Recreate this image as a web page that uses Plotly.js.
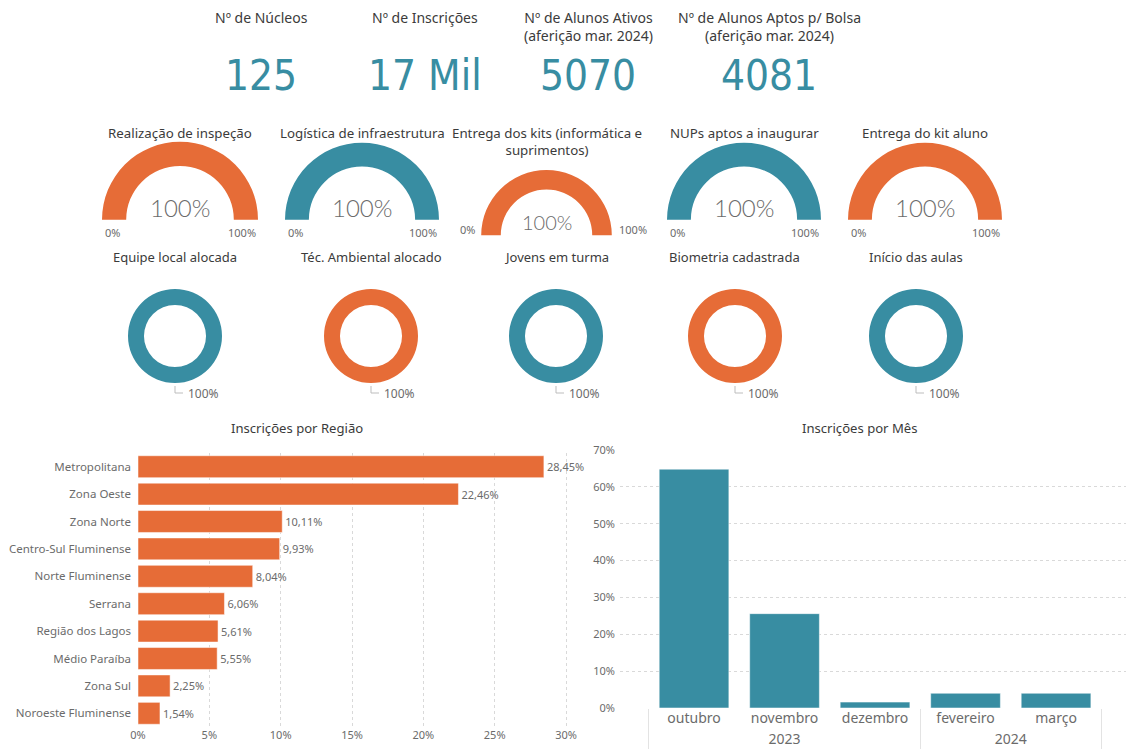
<!DOCTYPE html>
<html>
<head>
<meta charset="utf-8">
<script src="https://cdn.plot.ly/plotly-3.0.1.min.js"></script>
<style>html,body{margin:0;padding:0;background:#fff;}#chart{width:1126px;height:756px;}</style>
</head>
<body>
<div id="chart"></div>
<script>
// ---------- DATA ----------
const kpiTitles = ['Nº de Núcleos', 'Nº de Inscrições', 'Nº de Alunos Ativos<br>(aferição mar. 2024)', 'Nº de Alunos Aptos p/ Bolsa<br>(aferição mar. 2024)'];
const kpiValues = ['125', '17 Mil', '5070', '4081'];

const gaugeTitles = ['Realização de inspeção', 'Logística de infraestrutura', 'Entrega dos kits (informática e<br>suprimentos)', 'NUPs aptos a inaugurar', 'Entrega do kit aluno'];
const gaugeValues = [100, 100, 100, 100, 100];
const gaugeMin = '0%';
const gaugeMax = '100%';

const donutTitles = ['Equipe local alocada', 'Téc. Ambiental alocado', 'Jovens em turma', 'Biometria cadastrada', 'Início das aulas'];
const donutValues = [100, 100, 100, 100, 100];

const regions = ['Metropolitana', 'Zona Oeste', 'Zona Norte', 'Centro-Sul Fluminense', 'Norte Fluminense', 'Serrana', 'Região dos Lagos', 'Médio Paraíba', 'Zona Sul', 'Noroeste Fluminense'];
const regionValues = [28.45, 22.46, 10.11, 9.93, 8.04, 6.06, 5.61, 5.55, 2.25, 1.54];

const monthYears = ['2023', '2023', '2023', '2024', '2024'];
const months = ['outubro', 'novembro', 'dezembro', 'fevereiro', 'março'];
const monthValues = [64.8, 25.6, 1.6, 4.0, 4.0];

// ---------- STYLE / LAYOUT ----------
const W = 1126, H = 756;
const px = x => x / W;
const py = y => 1 - y / H;
const TEAL = '#388DA2';
const ORANGE = '#E66C37';
const TXT = '#3b3b3b';
const GRAY = '#6b6b6b';
const FONT = 'Segoe UI, Noto Sans, Open Sans, sans-serif';
const NUMFONT = 'DejaVu Sans Condensed, sans-serif';
const LIGHTFONT = 'Lato, Noto Sans, sans-serif';

const annotations = [];
const shapes = [];
function ann(text, x, y, opt) {
  opt = opt || {};
  annotations.push({
    text: text, x: px(x), y: py(y), xref: 'paper', yref: 'paper', showarrow: false,
    xanchor: opt.xanchor || 'center', yanchor: opt.yanchor || 'middle',
    align: opt.align || 'center',
    font: {family: opt.family || FONT, size: opt.size || 14, color: opt.color || TXT, weight: opt.weight || 400}
  });
}

// KPI cards
const kpiX = [261, 425, 588, 769];
kpiTitles.forEach((t, i) => ann(t, kpiX[i], 6, {yanchor: 'top', size: 14}));
kpiValues.forEach((v, i) => ann(v, kpiX[i], 76, {size: 42, color: TEAL, family: NUMFONT}));

const traces = [];

// Gauges (semi donuts)
const gaugeCx = [180, 362, 546.5, 744, 925];
const gaugeCy = [219.7, 219.7, 235.3, 219.7, 219.7];
const gaugeR = [78, 77, 65.3, 77, 77];
const gaugeColors = [ORANGE, TEAL, ORANGE, TEAL, ORANGE];
gaugeValues.forEach((v, i) => {
  const cx = gaugeCx[i], cy = gaugeCy[i], r = gaugeR[i];
  traces.push({
    type: 'pie', values: [v, 100 - v, 100], sort: false, direction: 'clockwise', rotation: 270,
    hole: i === 2 ? 0.70 : 0.69, textinfo: 'none', hoverinfo: 'skip', showlegend: false,
    marker: {colors: [gaugeColors[i], '#e6e6e6', 'rgba(0,0,0,0)'], line: {width: 0}},
    domain: {x: [px(cx - r), px(cx + r)], y: [py(cy + r), py(cy - r)]}
  });
  const big = i !== 2;
  ann(gaugeTitles[i], cx, 122, {yanchor: 'top', size: 13.3});
  ann(v + '%', cx, big ? 207 : 222, {size: big ? 24 : 20, color: GRAY, family: LIGHTFONT, weight: 300});
  if (big) {
    ann(gaugeMin, cx - r + 1, 233, {xanchor: 'left', size: 11, color: GRAY});
    ann(gaugeMax, cx + r, 233, {xanchor: 'right', size: 11, color: GRAY});
  } else {
    ann(gaugeMin, cx - r - 4, 230, {xanchor: 'right', size: 11, color: GRAY});
    ann(gaugeMax, cx + r + 5, 230, {xanchor: 'left', size: 11, color: GRAY});
  }
});

// Donuts
const donutCx = [175, 371, 556, 735, 916];
const donutCy = 336, donutR = 47;
const donutColors = [TEAL, ORANGE, TEAL, ORANGE, TEAL];
donutValues.forEach((v, i) => {
  const cx = donutCx[i];
  traces.push({
    type: 'pie', values: [v, 100 - v], sort: false, direction: 'clockwise', rotation: 0,
    hole: 0.66, textinfo: 'none', hoverinfo: 'skip', showlegend: false,
    marker: {colors: [donutColors[i], '#e6e6e6'], line: {width: 0}},
    domain: {x: [px(cx - donutR), px(cx + donutR)], y: [py(donutCy + donutR), py(donutCy - donutR)]}
  });
  ann(donutTitles[i], cx, 257, {size: 13});
  ann(v + '%', cx + 11, 393, {xanchor: 'left', size: 12, color: GRAY});
  shapes.push({type: 'path', xref: 'paper', yref: 'paper',
    path: `M ${px(cx)} ${py(donutCy + donutR + 3)} L ${px(cx)} ${py(393)} L ${px(cx + 8)} ${py(393)}`,
    line: {color: '#bdbdbd', width: 1}});
});

// Bar: region
ann('Inscrições por Região', 297, 428, {size: 13.1});
traces.push({
  type: 'bar', orientation: 'h', x: regionValues, y: regions, xaxis: 'x', yaxis: 'y',
  width: 0.8,
  marker: {color: ORANGE, line: {color: 'rgba(255,255,255,0.5)', width: 1}},
  text: regionValues.map(v => v.toFixed(2).replace('.', ',') + '%'),
  textposition: 'outside', cliponaxis: false, textfont: {size: 11, color: GRAY, family: FONT},
  hoverinfo: 'skip', showlegend: false
});

// Bar: month
ann('Inscrições por Mês', 860, 428, {size: 13.1});
traces.push({
  type: 'bar', x: [monthYears, months], y: monthValues, xaxis: 'x2', yaxis: 'y2',
  width: 0.77,
  marker: {color: TEAL, line: {color: 'rgba(255,255,255,0.5)', width: 1}},
  hoverinfo: 'skip', showlegend: false
});

const layout = {
  width: W, height: H,
  margin: {l: 0, r: 0, t: 0, b: 0},
  paper_bgcolor: '#fff', plot_bgcolor: 'rgba(0,0,0,0)',
  showlegend: false,
  font: {family: FONT, color: GRAY},
  xaxis: {
    domain: [px(138), px(575)], anchor: 'y', range: [0, 30.63],
    dtick: 5, ticksuffix: '%', showgrid: true, gridcolor: '#d9d9d9', griddash: 'dot',
    zeroline: false, showline: false, ticks: '', tickfont: {size: 11, color: GRAY}, fixedrange: true
  },
  yaxis: {
    domain: [py(727), py(453)], anchor: 'x', type: 'category', autorange: 'reversed',
    showgrid: false, zeroline: false, showline: false, ticks: '', ticklabelstandoff: 6,
    tickfont: {size: 11.5, color: GRAY}, fixedrange: true
  },
  xaxis2: {
    domain: [px(620), 1], anchor: 'y2', type: 'multicategory', range: [-0.818, 4.773],
    showgrid: false, zeroline: false, showline: false, ticks: '',
    showdividers: true, dividercolor: '#e3e3e3', dividerwidth: 1,
    tickfont: {size: 14, color: GRAY}, fixedrange: true
  },
  yaxis2: {
    domain: [py(708), py(450)], anchor: 'x2', range: [0, 70], dtick: 10, ticksuffix: '%',
    showgrid: true, gridcolor: '#d9d9d9', griddash: 'dot', zeroline: false, showline: false,
    ticks: '', ticklabelstandoff: 4, tickfont: {size: 11, color: GRAY}, fixedrange: true
  },
  annotations: annotations,
  shapes: shapes
};

Plotly.newPlot('chart', traces, layout, {displayModeBar: false, staticPlot: true});
</script>
</body>
</html>
